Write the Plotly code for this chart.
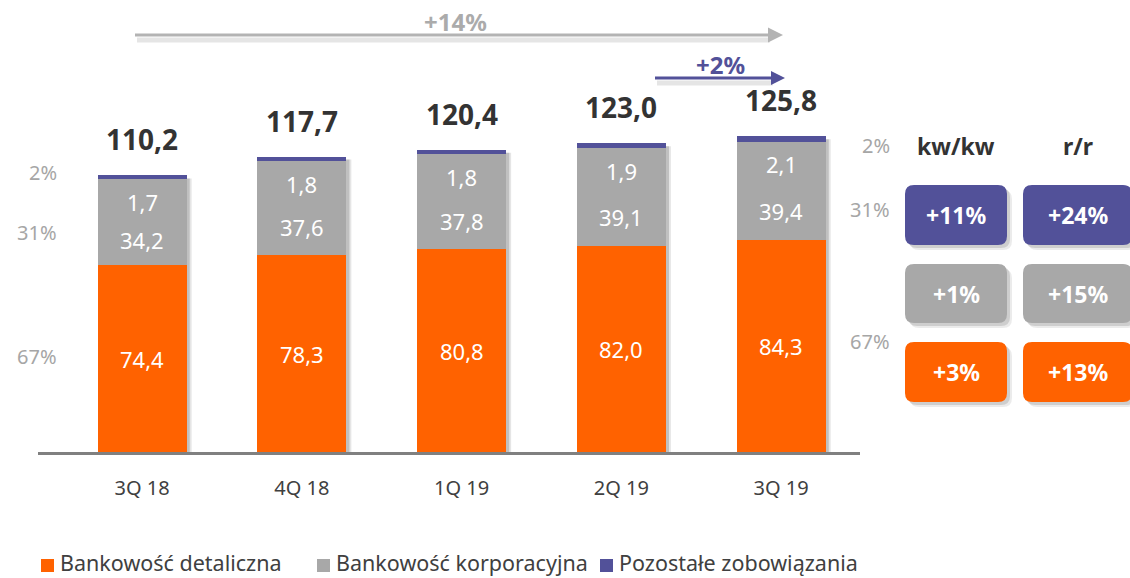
import plotly.graph_objects as go

# ---- data -------------------------------------------------------------
quarters = ["3Q 18", "4Q 18", "1Q 19", "2Q 19", "3Q 19"]
retail = [74.4, 78.3, 80.8, 82.0, 84.3]        # Bankowość detaliczna
corporate = [34.2, 37.6, 37.8, 39.1, 39.4]     # Bankowość korporacyjna
other = [1.7, 1.8, 1.8, 1.9, 2.1]              # Pozostałe zobowiązania
totals = [110.2, 117.7, 120.4, 123.0, 125.8]

series_names = ["Bankowość detaliczna", "Bankowość korporacyjna", "Pozostałe zobowiązania"]
change_headers = ["kw/kw", "r/r"]
change_other = ["+11%", "+24%"]
change_corporate = ["+1%", "+15%"]
change_retail = ["+3%", "+13%"]
growth_total = "+14%"
growth_last = "+2%"

# ---- styling ----------------------------------------------------------
ORANGE = "#FF6200"
GREY = "#A8A8A8"
PURPLE = "#525199"
DARK = "#333333"
SHARE = "#A6A6A6"
FONT = "Noto Sans"

FIG_W, FIG_H = 1130, 578
L, R, T, B = 38, 860, 0, 452          # plot area in pixels
PW, PH = R - L, B - T
PX_PER_UNIT = 2.51
BAR_W = 0.557


def X(px):
    return (px - L) / PW


def Y(py):
    return (B - py) / PH


def fmt(v):
    return f"{v:.1f}".replace(".", ",")


def paper_text(xpx, ypx, text, size, color, xanchor="center"):
    return dict(x=X(xpx), y=Y(ypx), xref="paper", yref="paper", text=text,
                showarrow=False, xanchor=xanchor, yanchor="middle",
                font=dict(family=FONT, size=size, color=color))


idx = list(range(len(quarters)))
colors = [ORANGE, GREY, PURPLE]

fig = go.Figure()
for name, vals, col in zip(series_names, [retail, corporate, other], colors):
    fig.add_trace(go.Bar(
        x=idx, y=vals, name=name, marker=dict(color=col, line=dict(width=0)),
        width=BAR_W, hoverinfo="skip",
    ))

shapes = []
annotations = []

# soft shadow on the right side of each bar
for i, tot in zip(idx, totals):
    for dx, op in [(0.032, 0.10), (0.02, 0.16)]:
        shapes.append(dict(
            type="rect", xref="x", yref="y", layer="below",
            x0=i - BAR_W / 2 + dx, x1=i + BAR_W / 2 + dx, y0=0, y1=tot - 1.2,
            fillcolor=f"rgba(0,0,0,{op})", line=dict(width=0),
        ))

# segment value labels and totals
for i, r, c, o, tot in zip(idx, retail, corporate, other, totals):
    for yv, v in [(r / 2, r), (r + c * 0.3, c), (r + c - 9, o)]:
        annotations.append(dict(x=i, y=yv, xref="x", yref="y", text=fmt(v), showarrow=False,
                                xanchor="center", yanchor="middle",
                                font=dict(family=FONT, size=22, color="white")))
    annotations.append(dict(x=i, y=tot, xref="x", yref="y", text=f"<b>{fmt(tot)}</b>",
                            showarrow=False, yshift=36, xanchor="center", yanchor="middle",
                            font=dict(family=FONT, size=28, color=DARK)))


# share of each segment in the first and last quarter
def shares(k):
    s = retail[k] + corporate[k] + other[k]
    return [round(other[k] / s * 100), round(corporate[k] / s * 100), round(retail[k] / s * 100)]


for k, xpx, ypxs in [(0, 59, [172, 232, 356]), (-1, 892, [146, 209, 341])]:
    for pct, ypx in zip(shares(k), ypxs):
        annotations.append(paper_text(xpx, ypx, f"{pct}%", 20, SHARE, xanchor="right"))


# growth arrows above the bars
def arrow(x0, x1, y, col, width, head):
    shapes.append(dict(type="line", xref="paper", yref="paper",
                       x0=X(x0 + 2), x1=X(x1 - head + 2), y0=Y(y + 5), y1=Y(y + 5),
                       line=dict(color="rgba(0,0,0,0.10)", width=width + 2)))
    shapes.append(dict(type="line", xref="paper", yref="paper",
                       x0=X(x0), x1=X(x1 - head + 1), y0=Y(y), y1=Y(y),
                       line=dict(color=col, width=width)))
    shapes.append(dict(type="path", xref="paper", yref="paper",
                       path=f"M {X(x1 - head)},{Y(y - head / 2)} L {X(x1)},{Y(y)} "
                            f"L {X(x1 - head)},{Y(y + head / 2)} Z",
                       fillcolor=col, line=dict(width=0)))


arrow(135, 783, 35, "#B3B3B3", 3, 15)
arrow(655, 785, 78, PURPLE, 3, 14)
annotations.append(paper_text(455, 21, f"<b>{growth_total}</b>", 24, "#ABABAB"))
annotations.append(paper_text(720, 64, f"<b>{growth_last}</b>", 24, PURPLE))


# change boxes on the right
def rounded_rect(x0, y0, x1, y1, r):
    return (f"M {X(x0 + r)},{Y(y0)} L {X(x1 - r)},{Y(y0)} Q {X(x1)},{Y(y0)} {X(x1)},{Y(y0 + r)} "
            f"L {X(x1)},{Y(y1 - r)} Q {X(x1)},{Y(y1)} {X(x1 - r)},{Y(y1)} "
            f"L {X(x0 + r)},{Y(y1)} Q {X(x0)},{Y(y1)} {X(x0)},{Y(y1 - r)} "
            f"L {X(x0)},{Y(y0 + r)} Q {X(x0)},{Y(y0)} {X(x0 + r)},{Y(y0)} Z")


col_x = [(905, 1007), (1023, 1132)]
col_cx = [956, 1078]
row_y = [(185, 245, PURPLE, change_other), (264, 323, GREY, change_corporate),
         (342, 402, ORANGE, change_retail)]

for cx, head in zip(col_cx, change_headers):
    annotations.append(paper_text(cx, 146, f"<b>{head}</b>", 23, DARK))

for ry0, ry1, col, labels in row_y:
    for (cx0, cx1), cx, lab in zip(col_x, col_cx, labels):
        for off, op in [(5, 0.08), (3, 0.12)]:
            shapes.append(dict(type="path", xref="paper", yref="paper", layer="below",
                               path=rounded_rect(cx0 + off, ry0 + off, cx1 + off, ry1 + off, 9),
                               fillcolor=f"rgba(0,0,0,{op})", line=dict(width=0)))
        shapes.append(dict(type="path", xref="paper", yref="paper",
                           path=rounded_rect(cx0, ry0, cx1, ry1, 9),
                           fillcolor=col, line=dict(width=0)))
        annotations.append(paper_text(cx, (ry0 + ry1) / 2, f"<b>{lab}</b>", 23, "white"))

# legend row along the bottom edge
legend_x = [41, 317, 600]
for lx, name, col in zip(legend_x, series_names, colors):
    shapes.append(dict(type="rect", xref="paper", yref="paper",
                       x0=X(lx), x1=X(lx + 13), y0=Y(572), y1=Y(559),
                       fillcolor=col, line=dict(width=0)))
    annotations.append(paper_text(lx + 17, 562, name, 21.5, "#404040", xanchor="left"))

fig.update_layout(
    width=FIG_W, height=FIG_H,
    margin=dict(l=L, r=FIG_W - R, t=T, b=FIG_H - B, pad=0),
    paper_bgcolor="white", plot_bgcolor="white",
    barmode="stack", bargap=0,
    font=dict(family=FONT, color="#404040"),
    xaxis=dict(
        range=[-0.651, 4.494], tickvals=idx, ticktext=quarters,
        showline=True, linecolor="#808080", linewidth=3,
        ticks="outside", ticklen=16, tickcolor="rgba(0,0,0,0)",
        showgrid=False, zeroline=False, fixedrange=True, automargin=False,
        tickfont=dict(family=FONT, size=20, color="#404040"),
    ),
    yaxis=dict(range=[0, PH / PX_PER_UNIT], visible=False, showgrid=False,
               zeroline=False, fixedrange=True, automargin=False),
    showlegend=False,
    shapes=shapes, annotations=annotations,
)

fig.write_html("out.html")
